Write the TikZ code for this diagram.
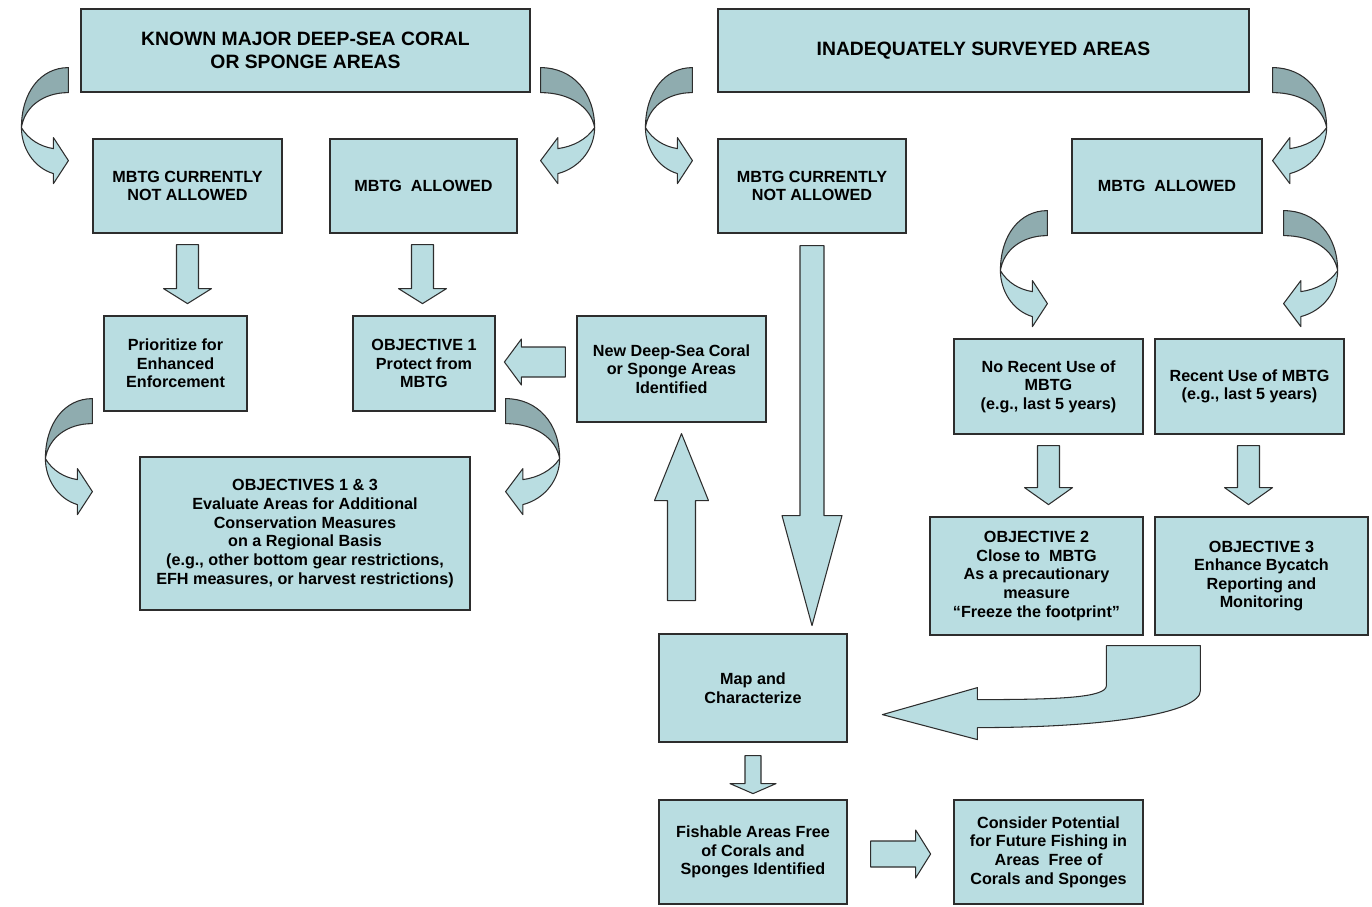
\documentclass[tikz,border=0pt]{standalone}
\usepackage{fontspec}
\setmainfont{Liberation Sans}
\usetikzlibrary{calc}

\definecolor{boxfill}{RGB}{185,221,225}
\definecolor{backfill}{RGB}{143,172,175}
\definecolor{boxline}{RGB}{45,45,45}

\newcommand{\bodyfont}{\bfseries\fontsize{9.2}{10.6}\selectfont}
\newcommand{\titlefont}{\bfseries\fontsize{11}{13}\selectfont}

\tikzset{
  box/.style={draw=boxline, fill=boxfill, line width=0.7pt, align=center, inner sep=0pt, font=\bodyfont},
  titlebox/.style={box, font=\titlefont},
  blockarrow/.style={draw=boxline, fill=boxfill, line width=0.6pt, line join=round},
  backside/.style={draw=boxline, fill=backfill, line width=0.6pt, line join=round},
  pics/fat/.style n args={4}{code={
    \draw[blockarrow] (0,-#3) -- (#1,-#3) -- (#1,-#4) -- ({#1+#2},0) -- (#1,#4) -- (#1,#3) -- (0,#3) -- cycle;
  }},
  pics/uturn/.style={code={
    \draw[blockarrow] (-47,60) .. controls (-47,80) and (-35,100) .. (-15,106) -- (-15,116) -- (0,93) -- (-15,70) -- (-15,81) .. controls (-28,79) and (-40,72) .. (-47,60) -- cycle;
    \draw[backside] (0,0) .. controls (-28,0) and (-47,25) .. (-47,60) .. controls (-44,40) and (-26,25) .. (0,25) -- cycle;
  }}
}

\begin{document}
\begin{tikzpicture}[x=0.02cm, y=-0.02cm]
    \useasboundingbox (0,0) rectangle (1372,906);

    % top row
    \node[titlebox, minimum width=8.98cm, minimum height=1.66cm] (known) at (305.5,50.5) {KNOWN MAJOR DEEP-SEA CORAL\\OR SPONGE AREAS};
    \node[titlebox, minimum width=10.62cm, minimum height=1.66cm] (inadeq) at (983.5,50.5) {INADEQUATELY SURVEYED AREAS};

    % MBTG status
    \node[box, minimum width=3.78cm, minimum height=1.88cm] (notallowedL) at (187.5,186) {MBTG CURRENTLY\\NOT ALLOWED};
    \node[box, minimum width=3.74cm, minimum height=1.88cm] (allowedL) at (423.5,186) {MBTG\ \ ALLOWED};
    \node[box, minimum width=3.76cm, minimum height=1.88cm] (notallowedR) at (812,186) {MBTG CURRENTLY\\NOT ALLOWED};
    \node[box, minimum width=3.8cm, minimum height=1.88cm] (allowedR) at (1167,186) {MBTG\ \ ALLOWED};

    % left branch
    \node[box, minimum width=2.86cm, minimum height=1.9cm] (prioritize) at (175.5,363.5) {Prioritize for\\Enhanced\\Enforcement};
    \node[box, minimum width=2.84cm, minimum height=1.9cm] (obj1) at (424,363.5) {OBJECTIVE 1\\Protect from\\MBTG};
    \node[box, minimum width=3.78cm, minimum height=2.12cm] (newareas) at (671.5,369) {New Deep-Sea Coral\\or Sponge Areas\\Identified};
    \node[box, minimum width=6.6cm, minimum height=3.06cm] (obj13) at (305,533.5) {OBJECTIVES 1 \& 3\\Evaluate Areas for Additional\\Conservation Measures\\on a Regional Basis\\(e.g., other bottom gear restrictions,\\EFH measures, or harvest restrictions)};

    % right branch
    \node[box, minimum width=3.78cm, minimum height=1.9cm] (norecent) at (1048.5,386.5) {No Recent Use of\\MBTG\\(e.g., last 5 years)};
    \node[box, minimum width=3.78cm, minimum height=1.9cm] (recent) at (1249.5,386.5) {Recent Use of MBTG\\(e.g., last 5 years)};
    \node[box, minimum width=4.26cm, minimum height=2.36cm] (obj2) at (1036.5,576) {OBJECTIVE 2\\Close to\ \ MBTG\\As a precautionary\\measure\\“Freeze the footprint”};
    \node[box, minimum width=4.26cm, minimum height=2.36cm] (obj3) at (1261.5,576) {OBJECTIVE 3\\Enhance Bycatch\\Reporting and\\Monitoring};

    % mapping
    \node[box, minimum width=3.76cm, minimum height=2.16cm] (mapchar) at (753,688) {Map and\\Characterize};
    \node[box, minimum width=3.76cm, minimum height=2.08cm] (fishable) at (753,852) {Fishable Areas Free\\of Corals and\\Sponges Identified};
    \node[box, minimum width=3.78cm, minimum height=2.08cm] (consider) at (1048.5,852) {Consider Potential\\for Future Fishing in\\Areas\ \ Free of\\Corals and Sponges};

    % straight block arrows
    \pic[rotate=-90] at ($(notallowedL.south)+(0,11)$) {fat={44}{15}{11}{24}};
    \pic[rotate=-90] at ($(allowedL.south)+(-1,11)$) {fat={44}{15}{11}{24}};
    \pic[rotate=-90] at ($(notallowedR.south)+(0,12)$) {fat={270}{110}{12}{30}};
    \pic[rotate=-90] at ($(norecent.south)+(0,11)$) {fat={42}{17}{11}{24}};
    \pic[rotate=-90] at ($(recent.south)+(-1,11)$) {fat={42}{17}{11}{24}};
    \pic[rotate=-90] at ($(mapchar.south)+(0,13)$) {fat={28}{10}{8}{23}};
    \pic[rotate=90] at ($(newareas.south)+(10,178)$) {fat={100}{67}{14}{27}};
    \pic[rotate=180] at ($(newareas.west)+(-11,-7)$) {fat={44}{17}{15}{23}};
    \pic at ($(fishable.east)+(23,2)$) {fat={45}{15}{13}{24}};

    % curved arrows
    \pic at ($(known.south west)+(-12,-25)$) {uturn};
    \pic[xscale=-1.15] at ($(known.south east)+(10,-25)$) {uturn};
    \pic at ($(inadeq.south west)+(-25,-25)$) {uturn};
    \pic[xscale=-1.15] at ($(inadeq.south east)+(23,-25)$) {uturn};
    \pic at ($(allowedR.south west)+(-24,-23)$) {uturn};
    \pic[xscale=-1.15] at ($(allowedR.south east)+(21,-23)$) {uturn};
    \pic at ($(prioritize.south west)+(-11,-13)$) {uturn};
    \pic[xscale=-1.15] at ($(obj1.south east)+(10,-13)$) {uturn};

    % objectives 2 and 3 back to mapping
    \begin{scope}[shift={(obj3.south west)}]
        \draw[blockarrow] (-48,10) -- (46,10) -- (46,55) .. controls (46,77) and (-45,92) .. (-177,92) -- (-177,104) -- (-272,79) -- (-177,52) -- (-177,64) .. controls (-95,64) and (-48,62) .. (-48,50) -- cycle;
    \end{scope}

\end{tikzpicture}
\end{document}
